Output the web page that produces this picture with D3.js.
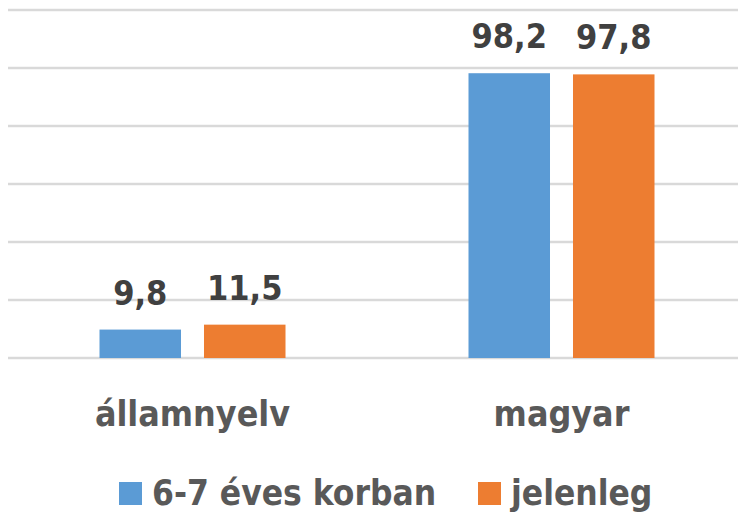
<!DOCTYPE html>
<html>
<head>
<meta charset="utf-8">
<script src="https://cdn.jsdelivr.net/npm/d3@7"></script>
<style>
  body { margin: 0; background: #fff; }
  svg text { font-family: "Liberation Sans Narrow", "DejaVu Sans Condensed", sans-serif; font-weight: bold; }
</style>
</head>
<body>
<svg id="chart" width="738" height="516"></svg>
<script>
var categories = ['államnyelv', 'magyar'];
var seriesNames = ['6-7 éves korban', 'jelenleg'];
var seriesColors = ['#5b9bd5', '#ed7d31'];
var earlyValues = [9.8, 98.2];
var nowValues = [11.5, 97.8];
var yTicks = [0, 20, 40, 60, 80, 100, 120];

var width = 738;
var plotLeft = 8;
var plotRight = 746;
var plotTop = 10;
var plotBottom = 358;

var svg = d3.select('#chart');

var x = d3.scaleBand().domain(categories).range([plotLeft, plotRight]).paddingInner(0).paddingOuter(0);
var x1 = d3.scaleBand().domain(seriesNames).range([0, 186]).paddingInner(0.22);
var y = d3.scaleLinear().domain([0, 120]).range([plotBottom, plotTop]);

// gridlines
svg.append('g').selectAll('line')
  .data(yTicks).enter().append('line')
  .attr('x1', plotLeft).attr('x2', width)
  .attr('y1', d => y(d)).attr('y2', d => y(d))
  .attr('stroke', '#d9d9d9').attr('stroke-width', 2.5);

var rows = categories.map((c, i) => ({
  category: c,
  values: [earlyValues[i], nowValues[i]]
}));

var groups = svg.selectAll('.group')
  .data(rows).enter().append('g')
  .attr('transform', d => 'translate(' + (x(d.category) + x.bandwidth() / 2 - 93) + ',0)');

var bars = groups.selectAll('.bar')
  .data(d => d.values.map((v, i) => ({ series: seriesNames[i], value: v, color: seriesColors[i] })))
  .enter();

bars.append('rect')
  .attr('x', d => x1(d.series))
  .attr('width', x1.bandwidth())
  .attr('y', d => y(d.value))
  .attr('height', d => plotBottom - y(d.value))
  .attr('fill', d => d.color);

// value labels, decimal comma as in the original
bars.append('text')
  .attr('x', d => x1(d.series) + x1.bandwidth() / 2)
  .attr('y', d => y(d.value) - 25)
  .attr('text-anchor', 'middle')
  .attr('font-size', 34)
  .attr('fill', '#404040')
  .text(d => String(d.value).replace('.', ','));

// category labels
svg.selectAll('.cat')
  .data(categories).enter().append('text')
  .attr('x', d => x(d) + x.bandwidth() / 2)
  .attr('y', 426)
  .attr('text-anchor', 'middle')
  .attr('font-size', 35.5)
  .attr('fill', '#595959')
  .text(d => d);

// legend
var legendX = [119, 478];
var legend = svg.selectAll('.legend')
  .data(seriesNames).enter().append('g')
  .attr('transform', (d, i) => 'translate(' + legendX[i] + ',482)');

legend.append('rect')
  .attr('width', 23).attr('height', 23)
  .attr('fill', (d, i) => seriesColors[i]);

legend.append('text')
  .attr('x', 33).attr('y', 23)
  .attr('font-size', 35)
  .attr('fill', '#595959')
  .text(d => d);
</script>
</body>
</html>
